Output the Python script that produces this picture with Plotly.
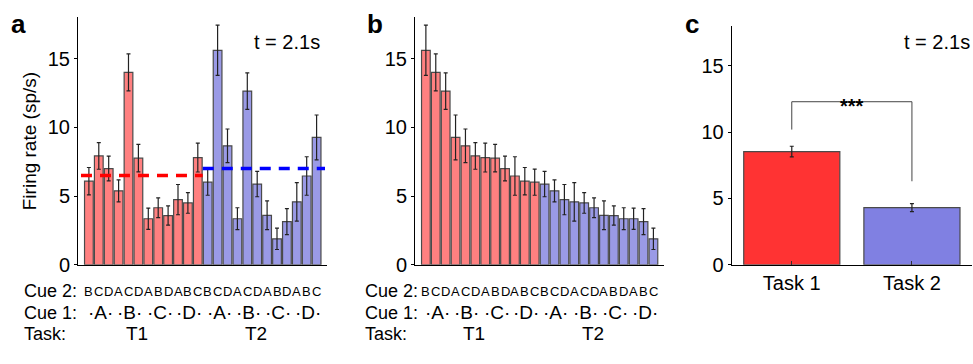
import plotly.graph_objects as go

# ---------------- data ----------------
cue2_letters = list("BCDACDABDABCBCDACDABDABC")
cue1_labels = ["·A·", "·B·", "·C·", "·D·", "·A·", "·B·", "·C·", "·D·"]
task_short = ["T1", "T2"]

# panel a (conditions in cue order)
a_t1_rates = [6.08, 7.92, 7.0, 5.38, 14.0, 7.76, 3.35, 4.15, 3.58, 4.74, 4.5, 7.8]
a_t1_err = [1.0, 0.97, 0.9, 0.8, 1.35, 1.0, 0.77, 0.72, 0.7, 1.1, 0.75, 1.05]
a_t2_rates = [6.01, 15.61, 8.66, 3.35, 12.64, 5.87, 3.6, 1.89, 3.14, 4.58, 6.46, 9.27]
a_t2_err = [0.95, 1.83, 1.22, 0.8, 1.33, 0.92, 1.05, 0.78, 0.95, 1.4, 1.4, 1.63]
task_mean_lines = [6.5, 7.0]

# panel b (sorted)
b_top_rates = [15.61, 14.0, 12.64, 9.27, 8.66, 7.92, 7.8, 7.76, 7.0, 6.46, 6.08, 6.01]
b_top_err = [1.83, 1.35, 1.33, 1.63, 1.22, 0.97, 1.05, 1.0, 0.9, 1.4, 1.0, 0.95]
b_bot_rates = [5.87, 5.38, 4.74, 4.58, 4.5, 4.15, 3.6, 3.58, 3.35, 3.35, 3.14, 1.89]
b_bot_err = [0.92, 0.8, 1.1, 1.4, 0.75, 0.72, 1.05, 0.7, 0.8, 0.77, 0.95, 0.78]

# panel c
c_tasks = ["Task 1", "Task 2"]
c_rates = [8.54, 4.31]
c_err = [0.4, 0.3]
sig_top = 12.3
sig_left_bottom = 10.2
sig_right_bottom = 6.3

y_ticks = [0, 5, 10, 15]
time_label = "t = 2.1s"

# ---------------- styles ----------------
FONT = "Liberation Sans, Arial, sans-serif"
RED_L = "#FF8080"
BLUE_L = "#9A9AE6"
RED_C = "#FF3333"
BLUE_C = "#8080E2"
EDGE = "#4a4a4a"
ERR = dict(color="#222222", thickness=1.2, width=2)

n = len(cue2_letters)
x_t1 = list(range(len(a_t1_rates)))
x_t2 = list(range(len(a_t1_rates), n))

fig = go.Figure()

def bars(x, y, err, color, xa, ya, width):
    fig.add_trace(go.Bar(
        x=x, y=y, width=width,
        marker=dict(color=color, line=dict(color=EDGE, width=1.2)),
        error_y=dict(type="data", array=err, **ERR),
        xaxis=xa, yaxis=ya, showlegend=False, hoverinfo="skip"))

# panel a
bars(x_t1, a_t1_rates, a_t1_err, RED_L, "x", "y", 0.88)
bars(x_t2, a_t2_rates, a_t2_err, BLUE_L, "x", "y", 0.88)
fig.add_trace(go.Scatter(x=[-0.8, x_t1[-1] + 0.5], y=[task_mean_lines[0]] * 2,
                         mode="lines", line=dict(color="#FF0000", width=3.5, dash="11px,8px"),
                         xaxis="x", yaxis="y", showlegend=False, hoverinfo="skip"))
fig.add_trace(go.Scatter(x=[x_t2[0] - 0.5, n - 0.15], y=[task_mean_lines[1]] * 2,
                         mode="lines", line=dict(color="#0000FF", width=3.5, dash="11px,8px"),
                         xaxis="x", yaxis="y", showlegend=False, hoverinfo="skip"))

# panel b
bars(x_t1, b_top_rates, b_top_err, RED_L, "x2", "y2", 0.88)
bars(x_t2, b_bot_rates, b_bot_err, BLUE_L, "x2", "y2", 0.88)

# panel c
bars([0, 1], c_rates, c_err, [RED_C, BLUE_C], "x3", "y3", 0.8)
fig.add_trace(go.Scatter(x=[0, 0, 1, 1],
                         y=[sig_left_bottom, sig_top, sig_top, sig_right_bottom],
                         mode="lines", line=dict(color="#444444", width=1),
                         xaxis="x3", yaxis="y3", showlegend=False, hoverinfo="skip"))

W, H = 973, 364
def px_x(p):
    return p / W
def px_y(p):
    return 1 - p / H

ydom_ab = [px_y(273), px_y(18)]
ydom_c = [px_y(273), px_y(27)]

yaxis_common = dict(range=[0, 18], tickvals=y_ticks, showline=True, linecolor="black",
                    linewidth=1, ticks="outside", ticklen=3, tickcolor="black",
                    showgrid=False, zeroline=False,
                    tickfont=dict(family=FONT, size=20, color="black"))
xaxis_common = dict(showline=True, linecolor="black", linewidth=1, showgrid=False,
                    zeroline=False, showticklabels=False, ticks="")

fig.update_layout(
    width=W, height=H, margin=dict(l=0, r=0, t=0, b=0),
    paper_bgcolor="white", plot_bgcolor="white", barmode="overlay",
    xaxis=dict(domain=[px_x(78), px_x(327)], range=[-1.1, 24.05], anchor="y", **xaxis_common),
    yaxis=dict(domain=ydom_ab, anchor="x",
               title=dict(text="Firing rate (sp/s)", font=dict(family=FONT, size=19, color="black"),
                          standoff=6),
               **yaxis_common),
    xaxis2=dict(domain=[px_x(415), px_x(664)], range=[-1.1, 24.07], anchor="y2", **xaxis_common),
    yaxis2=dict(domain=ydom_ab, anchor="x2", **yaxis_common),
    xaxis3=dict(domain=[px_x(731.7), px_x(972)], range=[-0.5, 1.5], anchor="y3",
                showline=True, linecolor="black", linewidth=1, showgrid=False, zeroline=False,
                tickvals=[0, 1], ticktext=c_tasks, ticks="inside", ticklen=4, tickcolor="#333",
                tickfont=dict(family=FONT, size=20, color="black")),
    yaxis3=dict(domain=ydom_c, anchor="x3", **yaxis_common),
)

ann = []
def txt(text, x, y, xref="paper", size=19, xanchor="center", bold=False, yanchor="middle"):
    ann.append(dict(text=f"<b>{text}</b>" if bold else text, x=x, y=y, xref=xref, yref="paper",
                    showarrow=False, xanchor=xanchor, yanchor=yanchor,
                    font=dict(family=FONT, size=size, color="black")))

# panel letters
txt("a", px_x(18), px_y(25), size=26, bold=True)
txt("b", px_x(375), px_y(25), size=26, bold=True)
txt("c", px_x(692), px_y(25), size=26, bold=True)

# time labels
txt(time_label, px_x(322), px_y(43), xanchor="right", size=20)
txt(time_label, px_x(972), px_y(43.5), xanchor="right", size=20)

# significance stars
ann.append(dict(text="<b>***</b>", x=0.5, y=sig_top - 0.3, xref="x3", yref="y3", showarrow=False,
                xanchor="center", yanchor="middle", font=dict(family=FONT, size=20, color="black")))

# bottom cue labels for panels a and b
for xr, left in (("x", 22), ("x2", 363)):
    txt("Cue 2:", px_x(left), px_y(300), xanchor="left", size=18)
    txt("Cue 1:", px_x(left), px_y(322.5), xanchor="left", size=18)
    txt("Task:", px_x(left), px_y(344), xanchor="left", size=18)
    for i, letter in enumerate(cue2_letters):
        txt(letter, i, px_y(301), xref=xr, size=13)
    for g, lab in enumerate(cue1_labels):
        txt(lab, 3 * g + 1.15, px_y(322.5), xref=xr, size=19)
    for t, lab in enumerate(task_short):
        txt(lab, 12 * t + 4.9, px_y(344), xref=xr, size=19)

fig.update_layout(annotations=ann)
fig.write_html("out.html")
